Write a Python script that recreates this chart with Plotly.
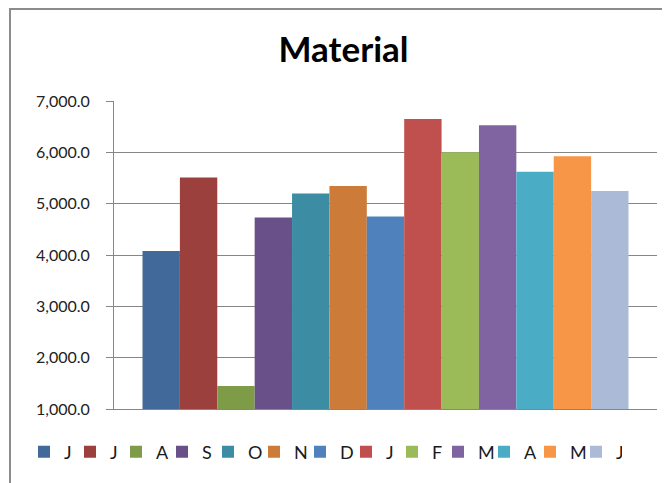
import plotly.graph_objects as go

months = ["J", "J", "A", "S", "O", "N", "D", "J", "F", "M", "A", "M", "J"]
values = [4080, 5510, 1450, 4730, 5200, 5345, 4750, 6650, 6000, 6530, 5620, 5925, 5245]
colors = ["#416A9B", "#9C403D", "#7E9C48", "#6A5088", "#3C8DA3", "#CC7B38", "#4F81BD",
          "#C0504D", "#9BBB59", "#8064A2", "#4BACC6", "#F79646", "#AABAD7"]
category = "Material"
y_ticks = [1000, 2000, 3000, 4000, 5000, 6000, 7000]

fig = go.Figure()
for m, v, c in zip(months, values, colors):
    fig.add_trace(go.Bar(x=[category], y=[v], name=m, marker=dict(color=c, line=dict(width=0))))

# page body has an 8px margin, so the figure is sized/positioned to compensate
W, H = 662, 475
ml, mr, mt, mb = 106, 13, 93, 74
pw, ph = W - ml - mr, H - mt - mb

fig.update_layout(
    template="none",
    width=W, height=H,
    margin=dict(l=ml, r=mr, t=mt, b=mb, autoexpand=False),
    paper_bgcolor="white", plot_bgcolor="white",
    barmode="group", bargap=0.105, bargroupgap=0,
    font=dict(family="Lato, sans-serif", color="#000000"),
    title=dict(text="<b>Material</b>", x=(335.5 - ml) / pw, xref="paper", xanchor="center",
               y=1 - 42 / H, yanchor="middle", font=dict(size=35, family="Lato, sans-serif")),
    showlegend=True,
    legend=dict(orientation="h", x=(16 - ml) / pw, xanchor="left", y=(ph - (444 - mt)) / ph,
                yanchor="middle", font=dict(size=18, color="#1A1A1A"), itemwidth=30, entrywidth=1,
                entrywidthmode="pixels", traceorder="normal", bgcolor="rgba(0,0,0,0)"),
    xaxis=dict(showticklabels=False, showline=True, linecolor="#868686", linewidth=1,
               ticks="", showgrid=False, fixedrange=True, automargin=False),
    yaxis=dict(range=[1000, 7000], tickvals=y_ticks, tickformat=",.1f",
               showgrid=True, gridcolor="#868686", gridwidth=1,
               showline=True, linecolor="#868686", linewidth=1,
               ticks="outside", ticklen=7, tickcolor="#868686",
               tickfont=dict(size=16, color="#222222"), ticklabelstandoff=13,
               zeroline=False, automargin=False),
    shapes=[dict(type="rect", xref="paper", yref="paper",
                 x0=(2 - ml) / pw, x1=(W + 20 - ml) / pw,
                 y0=(ph - (H + 20 - mt)) / ph, y1=(ph - (1 - mt)) / ph,
                 line=dict(color="#8C8C8C", width=2), fillcolor="rgba(0,0,0,0)", layer="above")],
)

fig.write_html("out.html")
